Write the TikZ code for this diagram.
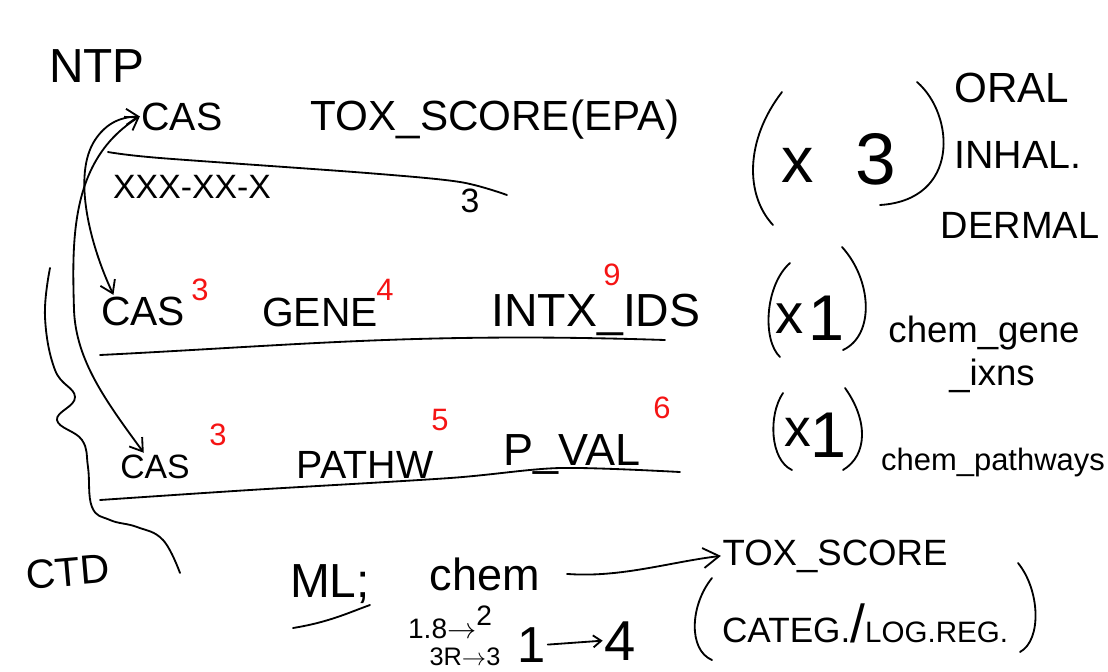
\documentclass[tikz,border=0pt]{standalone}
\usepackage{fontspec}
\setmainfont{Liberation Sans}
\usepackage{xcolor}
\usepackage{tikz}
\usetikzlibrary{arrows.meta, positioning, calc}
\definecolor{inkblack}{RGB}{0,0,0}
\definecolor{inkred}{RGB}{245,20,20}

\begin{document}
\begin{tikzpicture}[
  x=0.025cm, y=-0.025cm,
  pen/.style={draw=inkblack, line width=1.3pt, line cap=round, line join=round},
  hand/.style={font=\fontsize{#1pt}{#1pt}\selectfont, inner sep=1pt,
               text=inkblack, anchor=base},
  hand/.default=28,
  sup/.style={font=\fontsize{22pt}{22pt}\selectfont, inner sep=0pt,
              text=inkred, anchor=base},
  link/.style={pen, arrows={Straight Barb[length=3mm,width=4mm]-Straight Barb[length=3mm,width=4mm]}},
  arrow/.style={pen, -{Straight Barb[length=4mm,width=5mm]}},
  smallarrow/.style={pen, -{Straight Barb[length=2mm,width=3mm]}},
]
\useasboundingbox (0,0) rectangle (1108,671);

%% NTP table (top row)
\node[hand=34] (ntp) at (97,82) {NTP};
\node[hand=28] (cas0)   at (182,130) {CAS};
\node[hand=30] (tox)    at (495,130) {TOX\_SCORE(EPA)};
\node[hand=24] (casfmt) at (192,198) {XXX-XX-X};
\node[hand=24] (ncols)  at (470,212) {3};
\draw[pen] plot[smooth] coordinates {(108,152) (160,158) (367,173) (460,182) (507,195)};

%% (x 3) routes
\draw[pen] (782,92) .. controls (745,140) and (745,195) .. (773,225);
\draw[pen] (917,82) .. controls (955,115) and (960,200) .. (880,205);
\node[hand=46] (times0) at (798,182) {x};
\node[hand=52] (count0) at (876,184) {3};
\node[hand=30] (oral)   at (1012,102) {ORAL};
\node[hand=28] (inhal)  at (1018,168) {INHAL.};
\node[hand=27] (dermal) at (1020,238) {DERMAL};

%% CTD chem-gene row
\node[hand=29] (cas1) at (143,325) {CAS};
\node[sup] (sup1) at (200,300) {3};
\node[hand=29] (gene) at (320,326) {GENE};
\node[sup] (sup2) at (385,300) {4};
\node[hand=33] (intx) at (596,326) {INTX\_IDS};
\node[sup] (sup3) at (612,285) {9};
\draw[pen] (100,355) .. controls (300,345) and (420,332) .. (665,340);

\draw[pen] (790,263) .. controls (765,285) and (762,340) .. (780,357);
\draw[pen] (842,247) .. controls (872,280) and (875,335) .. (843,350);
\node[hand=40] (times1) at (790,333) {x};
\node[hand=46] (count1) at (826,340) {1};
\node[hand=26] (chemgene) at (984,342) {chem\_gene};
\node[hand=26] (ixns)     at (992,385) {\_ixns};

%% CTD chem-pathway row
\node[hand=24] (cas2) at (155,478) {CAS};
\node[sup] (sup4) at (218,445) {3};
\node[hand=28] (pathw) at (365,478) {PATHW};
\node[sup] (sup5) at (440,430) {5};
\node[hand=32] (pval) at (572,465) {P\_VAL};
\node[sup] (sup6) at (662,418) {6};
\draw[pen] plot[smooth] coordinates {(100,500) (250,490) (450,478) (560,468) (680,472)};

\draw[pen] (783,393) .. controls (768,415) and (770,460) .. (792,470);
\draw[pen] (845,388) .. controls (868,420) and (868,455) .. (843,470);
\node[hand=38] (times2) at (798,446) {x};
\node[hand=46] (count2) at (828,457) {1};
\node[hand=22] (chempath) at (993,470) {chem\_pathways};

%% CTD label and grouping stroke
\node[hand=29, anchor=center, rotate=5] (ctd) at (68,572) {CTD};
\draw[pen] plot[smooth, tension=0.7] coordinates {(50,268) (45,317) (55,370) (75,397) (57,420) (82,440) (88,467) (92,507) (110,520) (137,527) (163,540) (180,573)};

%% CAS links between tables
\draw[link] ([xshift=10pt]cas1.north west) .. controls (90,245) and (72,175) .. (95,140)
            .. controls (105,125) and (118,117) .. (cas0.west);
\draw[link] ([xshift=-8pt]cas2.north) .. controls (105,400) and (76,360) .. (74,310)
            .. controls (72,240) and (70,160) .. (cas0.west);

%% ML part
\node[hand=34] (ml)   at (330,597) {ML;};
\draw[pen] (293,628) .. controls (330,622) and (350,612) .. (370,605);
\node[hand=32] (chem) at (485,590) {chem};
\node[hand=26] (toxml) at (835,565) {TOX\_SCORE};
\draw[arrow] ([xshift=18pt]chem.east) .. controls (620,578) and (670,562) .. (toxml.west);

\draw[pen] (712,578) .. controls (690,605) and (688,650) .. (712,660);
\draw[pen] (1018,563) .. controls (1040,590) and (1042,640) .. (1020,652);
\node[hand=25] (categ) at (865,642) {CATEG.{\fontsize{38pt}{38pt}\selectfont/}{\fontsize{21pt}{21pt}\selectfont LOG.REG.}};

\node[hand=20] (map1) at (450,638) {1.8$\rightarrow$\raisebox{0.45em}{2}};
\node[hand=18] (map2) at (465,665) {3R$\rightarrow$3};
\node[hand=36] (one)  at (532,662) {1};
\node[hand=40] (four) at (620,660) {4};
\draw[smallarrow] (one.east) -- (four.west);

\end{tikzpicture}
\end{document}
